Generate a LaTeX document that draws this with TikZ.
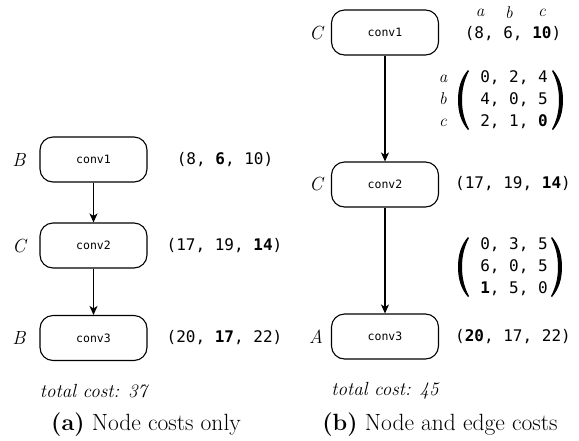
\documentclass[tikz,border=0pt]{standalone}
\usepackage{fontspec}
\setmonofont{DejaVu Sans Mono}
\usetikzlibrary{arrows.meta}
\begin{document}
\begin{tikzpicture}[x=1pt,y=-1pt,
  box/.style={draw, line width=1.1pt, rounded corners=13pt, minimum width=107pt, minimum height=45pt, inner sep=0pt, font=\fontsize{11.5}{13}\selectfont\ttfamily},
  arr/.style={line width=1.1pt, -{Stealth[length=9pt,width=8pt,inset=2.5pt]}},
  lab/.style={font=\fontsize{19}{20}\selectfont\itshape, inner sep=0pt},
  cost/.style={font=\fontsize{16}{18}\selectfont\ttfamily, inner sep=0pt},
  mat/.style={font=\fontsize{16}{22}\selectfont\ttfamily, align=left, inner sep=0pt},
  rl/.style={font=\fontsize{17}{22}\selectfont\itshape, align=center, inner sep=0pt},
  sm/.style={font=\fontsize{17}{18}\selectfont\itshape, inner sep=0pt},
  tot/.style={font=\fontsize{19}{21}\selectfont\itshape, inner sep=0pt},
  captxt/.style={font=\fontsize{23.5}{26}\selectfont, inner sep=0pt},
  lpar/.pic={\fill (5,-30) .. controls (-2,-22) and (-5,-12) .. (-5,0) .. controls (-5,12) and (-2,22) .. (5,30) -- (6,29) .. controls (1,20) and (-1,10) .. (-1,0) .. controls (-1,-10) and (1,-20) .. (6,-29) -- cycle;},
  rpar/.pic={\begin{scope}[xscale=-1]\fill (5,-30) .. controls (-2,-22) and (-5,-12) .. (-5,0) .. controls (-5,12) and (-2,22) .. (5,30) -- (6,29) .. controls (1,20) and (-1,10) .. (-1,0) .. controls (-1,-10) and (1,-20) .. (6,-29) -- cycle;\end{scope}}
]
\useasboundingbox (0,0) rectangle (579,440);

% ---- (a) ----
\node[box] (a1) at (93.5,159.5) {conv1};
\node[box] (a2) at (93.5,245.5) {conv2};
\node[box] (a3) at (93.5,338) {conv3};
\draw[arr] (a1) -- (a2);
\draw[arr] (a2) -- (a3);
\node[lab] (la1) at (19,160) {B};
\node[lab] (la2) at (19,246) {C};
\node[lab] (la3) at (19,338) {B};
\node[cost] (ca1) at (225,160) {(8, \textbf{6}, 10)};
\node[cost] (ca2) at (224.5,246) {(17, 19, \textbf{14})};
\node[cost] (ca3) at (224.5,338) {(20, \textbf{17}, 22)};
\node[tot] (ta) at (93.5,391) {total cost: 37};
\node[captxt] (capa) at (146,425) {\textbf{(a)} Node costs only};

% ---- (b) ----
\node[box] (b1) at (385,32.5) {conv1};
\node[box] (b2) at (385,184.5) {conv2};
\node[box] (b3) at (385,336.5) {conv3};
\draw[arr] (b1) -- (b2);
\draw[arr] (b2) -- (b3);
\node[lab] (lb1) at (316,33) {C};
\node[lab] (lb2) at (316,184) {C};
\node[lab] (lb3) at (316,337) {A};
\node[cost] (cb1) at (513,34) {(8, 6, \textbf{10})};
\node[cost] (cb2) at (513,184) {(17, 19, \textbf{14})};
\node[cost] (cb3) at (513,337) {(\textbf{20}, 17, 22)};
\node[sm] (sa) at (480,13) {a};
\node[sm] (sb) at (509,13) {b};
\node[sm] (sc) at (542,13) {c};
\node[rl] (rowl) at (443,100) {\strut a\\\strut b\\\strut c};
\node[mat] (m1) at (514,100) {\strut 0, 2, 4\\\strut 4, 0, 5\\\strut 2, 1, \textbf{0}};
\pic at (463,100) {lpar};
\pic at (558,100) {rpar};
\node[mat] (m2) at (514,267) {\strut 0, 3, 5\\\strut 6, 0, 5\\\strut \textbf{1}, 5, 0};
\pic at (463,267) {lpar};
\pic at (557,267) {rpar};
\node[tot] (tb) at (385,391) {total cost: 45};
\node[captxt] (capb) at (440,425) {\textbf{(b)} Node and edge costs};
\end{tikzpicture}
\end{document}
